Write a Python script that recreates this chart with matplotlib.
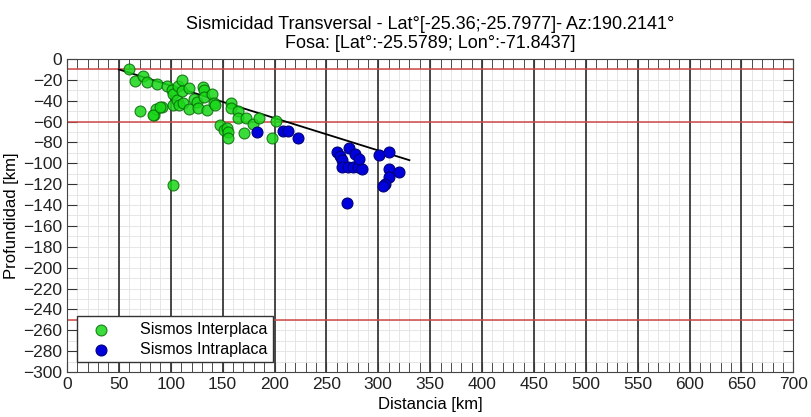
import matplotlib
matplotlib.use("Agg")
import matplotlib.pyplot as plt
import numpy as np
from matplotlib.ticker import MultipleLocator

plt.rcParams['font.family'] = ['Liberation Sans', 'DejaVu Sans']

# Data
inter_x = [60, 66, 73, 77, 70, 87, 96, 84, 86, 92, 102, 101, 102, 102, 106, 107, 111, 111, 108, 112,
           118, 118, 122, 125, 126, 131, 132, 132, 135, 140, 142, 143, 147, 151, 154, 155, 155, 158,
           158, 165, 165, 171, 173, 179, 185, 198, 201, 83, 90]
inter_y = [-10, -21, -16, -22, -50, -24, -26, -54, -48, -46, -121, -30, -34, -44, -39, -26, -20, -31, -44, -42,
           -28, -48, -38, -41, -47, -27, -30, -36, -49, -34, -42, -44, -63, -68, -66, -70, -76, -42,
           -47, -50, -57, -71, -57, -62, -57, -76, -59, -54, -46]
intra_x = [183, 208, 213, 223, 260, 263, 265, 265, 272, 271, 276, 280, 284, 278, 281, 270,
           301, 310, 310, 310, 306, 305, 320]
intra_y = [-70, -69, -69, -76, -89, -93, -97, -104, -85, -104, -104, -104, -105, -91, -96, -138,
           -92, -89, -105, -113, -120, -122, -108]
slab_x = [50, 330]
slab_y = [-10, -97]
ref_depths = [-10, -60, -250]

title = "Sismicidad Transversal - Lat°[-25.36;-25.7977]- Az:190.2141°\nFosa: [Lat°:-25.5789; Lon°:-71.8437]"

fig = plt.figure(figsize=(8.12, 4.17), dpi=100)
ax = fig.add_axes([0.0825, 0.108, 0.8945, 0.7505])

ax.set_xlim(0, 700)
ax.set_ylim(-300, 0)
ax.xaxis.set_major_locator(MultipleLocator(50))
ax.xaxis.set_minor_locator(MultipleLocator(10))
ax.yaxis.set_major_locator(MultipleLocator(20))
ax.yaxis.set_minor_locator(MultipleLocator(10))

ax.grid(which='both', color='#e2e2e2', linewidth=0.6, zorder=0)
ax.set_axisbelow(True)
for xv in range(50, 700, 50):
    ax.axvline(xv, color='#3a3a3a', linewidth=1.3, zorder=1)
for d in ref_depths:
    ax.axhline(d, color='#d04848', linewidth=1.1, zorder=1)

ax.plot(slab_x, slab_y, color='black', linewidth=1.3, zorder=2)

ax.scatter(inter_x, inter_y, s=62, facecolor='#18d818', edgecolor='#0a6a0a', linewidth=0.8,
           alpha=0.85, zorder=3, label='Sismos Interplaca')
ax.scatter(intra_x, intra_y, s=62, facecolor='#0000dd', edgecolor='#000077', linewidth=0.8,
           zorder=3, label='Sismos Intraplaca')

ax.tick_params(which='both', direction='in', top=True, right=True, labelsize=12.5, colors='#333333',
               labelcolor='#222222')
ax.tick_params(which='major', length=7)
ax.tick_params(axis='x', which='minor', length=7)
ax.tick_params(axis='y', which='minor', length=0)
for s in ax.spines.values():
    s.set_color('#444444')

ax.set_xlabel('Distancia [km]', fontsize=12, labelpad=4)
ax.set_ylabel('Profundidad [km]', fontsize=12, labelpad=3)
ax.set_title(title, fontsize=13, linespacing=1.15, pad=8)

leg = ax.legend(loc='lower left', fontsize=11.5, fancybox=False, edgecolor='#333333',
                framealpha=1, borderaxespad=0.6, handletextpad=1.3, handlelength=2.3,
                borderpad=0.35, labelspacing=0.3)
leg.get_frame().set_linewidth(1.0)

fig.savefig('out.png', dpi=100)
